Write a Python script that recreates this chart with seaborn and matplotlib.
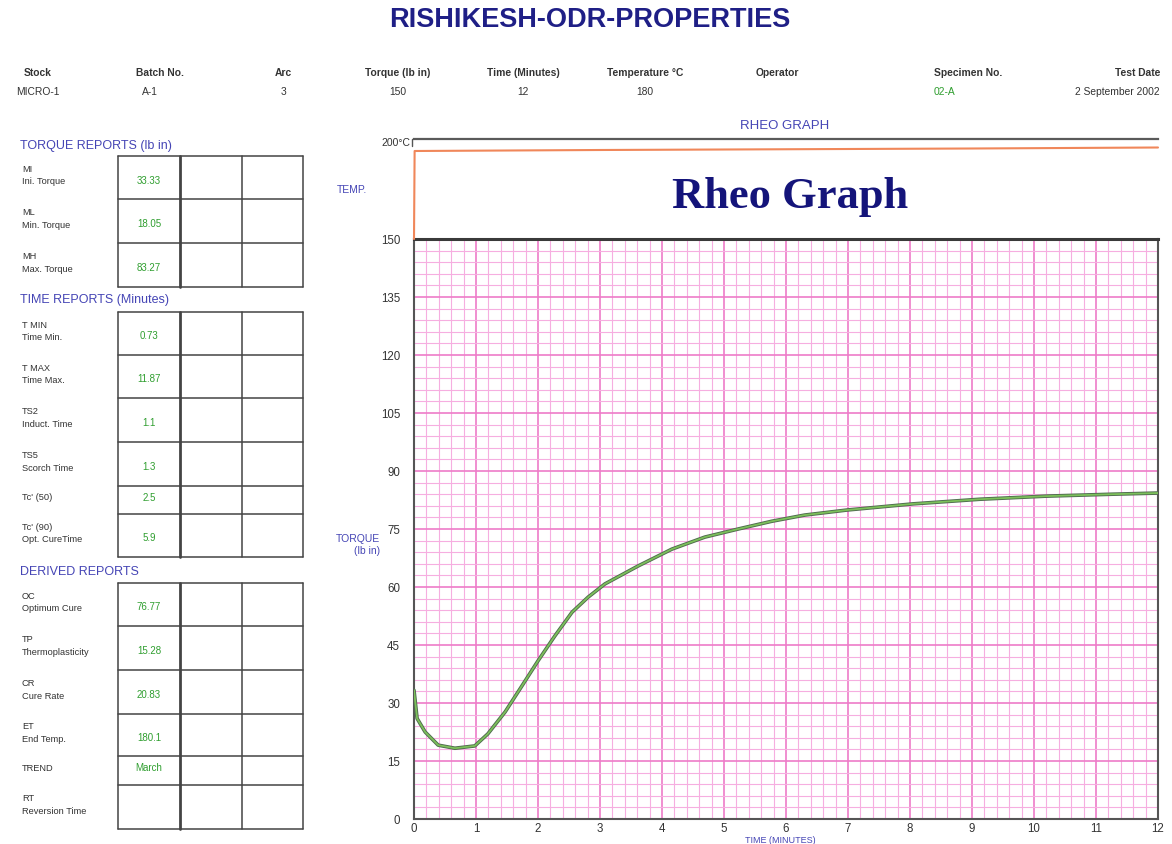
import numpy as np
import pandas as pd
import matplotlib
matplotlib.use('Agg')
import matplotlib.pyplot as plt
import seaborn as sns

# ---- data ----
header_labels = ['Stock', 'Batch No.', 'Arc', 'Torque (lb in)', 'Time (Minutes)',
                 'Temperature °C', 'Operator', 'Specimen No.', 'Test Date']
header_values = ['MICRO-1', 'A-1', '3', '150', '12', '180', '', '02-A', '2 September 2002']

torque_codes = ['MI', 'ML', 'MH']
torque_names = ['Ini. Torque', 'Min. Torque', 'Max. Torque']
torque_values = ['33.33', '18.05', '83.27']

time_codes = ['T MIN', 'T MAX', 'TS2', 'TS5', "Tc' (50)", "Tc' (90)"]
time_names = ['Time Min.', 'Time Max.', 'Induct. Time', 'Scorch Time', '', 'Opt. CureTime']
time_values = ['0.73', '11.87', '1.1', '1.3', '2.5', '5.9']

derived_codes = ['OC', 'TP', 'CR', 'ET', 'TREND', 'RT']
derived_names = ['Optimum Cure', 'Thermoplasticity', 'Cure Rate', 'End Temp.', '', 'Reversion Time']
derived_values = ['76.77', '15.28', '20.83', '180.1', 'March', '']

# cure curve (minutes, lb in)
cure_time = [0.0, 0.05, 0.18, 0.39, 0.66, 0.98, 1.19, 1.47, 1.74, 2.0, 2.27, 2.55,
             2.81, 3.08, 3.61, 4.16, 4.69, 5.23, 5.77, 6.3, 6.98, 8.05, 9.13,
             10.2, 11.27, 12.0]
cure_torque = [33.3, 26.0, 22.5, 19.1, 18.3, 18.9, 22.0, 27.7, 34.4, 40.9, 47.3, 53.5,
               57.4, 60.8, 65.4, 69.8, 72.9, 75.0, 77.0, 78.6, 79.9, 81.5, 82.7,
               83.5, 84.0, 84.3]

# temperature trace (minutes, deg C)
temp_time = [0.0, 0.01, 3.0, 6.0, 9.0, 12.0]
temp_c = [0.0, 176.0, 178.0, 179.5, 181.0, 183.0]

# ---- style ----
sns.set_style('white')
plt.rcParams['font.family'] = ['Liberation Sans', 'DejaVu Sans']

W, H = 1172, 845
fig = plt.figure(figsize=(W / 100, H / 100), dpi=100)
fig.patch.set_facecolor('white')

BLUE = '#4545b5'
NAVY = '#1f1f86'
GREEN = '#2f9e2f'
TXT = '#333333'

# overlay in pixel coordinates for the report form
ov = fig.add_axes([0, 0, 1, 1])
ov.set_xlim(0, W)
ov.set_ylim(H, 0)
ov.axis('off')

ov.text(590, 20, 'RISHIKESH-ODR-PROPERTIES', ha='center', va='center',
        fontsize=19.5, fontweight='bold', color=NAVY)

# header row
hx = [38, 160, 283, 398, 523, 645, 777, 968, 1160]
for i, (lab, val) in enumerate(zip(header_labels, header_values)):
    ha = 'right' if i == len(header_labels) - 1 else 'center'
    ov.text(hx[i], 73, lab, ha=ha, va='center', fontsize=7.4, fontweight='bold', color=TXT)
    if val:
        vx = hx[i]
        col = TXT
        if lab == 'Batch No.':
            vx = 150
        if lab == 'Specimen No.':
            vx, col = 944, GREEN
        ov.text(vx, 92, val, ha=ha, va='center', fontsize=7.4, color=col)


def draw_table(title, title_y, rows, codes, names, values):
    ov.text(20, title_y, title, ha='left', va='center', fontsize=9, color=BLUE)
    cols = [118, 180, 242, 303]
    top, bot = rows[0], rows[-1]
    for y in rows:
        ov.plot([cols[0], cols[-1]], [y, y], color='#444444', lw=1.1)
    for j, x in enumerate(cols):
        ov.plot([x, x], [top, bot], color='#444444', lw=2.0 if j == 1 else 1.1)
    for k in range(len(codes)):
        y0, y1 = rows[k], rows[k + 1]
        mid = (y0 + y1) / 2
        if names[k]:
            ov.text(22, mid - 3, codes[k] + '\n' + names[k], ha='left', va='center',
                    fontsize=6.7, color=TXT, linespacing=1.5)
            vy = mid + 2
        else:
            ov.text(22, mid - 3, codes[k], ha='left', va='center', fontsize=6.7, color=TXT)
            vy = mid - 3
        if values[k]:
            ov.text(149, vy, values[k], ha='center', va='center', fontsize=7, color=GREEN)


draw_table('TORQUE REPORTS (lb in)', 146, [157, 200, 244, 288],
           torque_codes, torque_names, torque_values)
draw_table('TIME REPORTS (Minutes)', 300, [313, 356, 399, 443, 487, 515, 558],
           time_codes, time_names, time_values)
draw_table('DERIVED REPORTS', 572, [584, 627, 671, 715, 757, 786, 830],
           derived_codes, derived_names, derived_values)

# ---- rheo graph ----
left, right = 414, 1158
main_top, main_bot = 240, 820
temp_top = 140

ax = fig.add_axes([left / W, 1 - main_bot / H, (right - left) / W, (main_bot - main_top) / H])
axt = fig.add_axes([left / W, 1 - main_top / H, (right - left) / W, (main_top - temp_top) / H])

cure = pd.DataFrame({'time': cure_time, 'torque': cure_torque})
sns.lineplot(data=cure, x='time', y='torque', ax=ax, color='#4f6b4f', lw=2.6,
             estimator=None, sort=False, zorder=5)
sns.lineplot(data=cure, x='time', y='torque', ax=ax, color='#7cc05a', lw=1.3,
             estimator=None, sort=False, zorder=6)

ax.set_xlim(0, 12)
ax.set_ylim(0, 150)
ax.set_xticks(range(0, 13))
ax.set_yticks(range(0, 151, 15))
ax.set_xticks(np.arange(0, 12.001, 0.2), minor=True)
ax.set_yticks(np.arange(0, 150.001, 3), minor=True)
ax.grid(which='minor', color='#f6aee0', lw=0.8)
ax.grid(which='major', color='#ee7cc8', lw=1.2)
ax.set_axisbelow(True)
ax.tick_params(which='both', length=0, labelsize=8.3, labelcolor=TXT)
ax.tick_params(axis='y', pad=10)
ax.tick_params(axis='x', pad=2)
ax.set_xlabel('')
ax.set_ylabel('')
for side, s in ax.spines.items():
    s.set_visible(True)
    s.set_color('#555555')
    s.set_linewidth(1.5)
ax.spines['top'].set_color('#3a3a3a')
ax.spines['top'].set_linewidth(2.2)

temp = pd.DataFrame({'time': temp_time, 'temp': temp_c})
sns.lineplot(data=temp, x='time', y='temp', ax=axt, color='#f0875a', lw=1.5,
             estimator=None, sort=False)
for l in axt.get_lines():
    l.set_clip_on(False)
axt.set_xlim(0, 12)
axt.set_ylim(0, 200)
axt.set_xticks([])
axt.set_yticks([])
axt.set_xlabel('')
axt.set_ylabel('')
for side in ['left', 'right', 'bottom']:
    axt.spines[side].set_visible(False)
axt.spines['top'].set_color('#5a5a5a')
axt.spines['top'].set_linewidth(1.6)
axt.patch.set_alpha(0)

ov.text(785, 126, 'RHEO GRAPH', ha='center', va='center', fontsize=9.5, color=BLUE)
ov.text(410, 143, '200°C', ha='right', va='center', fontsize=7.5, color=TXT)
ov.plot([412, 412], [140, 147], color='#555555', lw=1)
ov.text(352, 190, 'TEMP.', ha='center', va='center', fontsize=7.5, color=BLUE)
ov.text(790, 197, 'Rheo Graph', ha='center', va='center', fontsize=32,
        fontweight='bold', color='#14147a', family='Liberation Serif')
ov.text(358, 545, 'TORQUE\n(lb in)', ha='center', va='center', fontsize=7.5,
        color=BLUE, linespacing=1.3, multialignment='right')
ov.text(780, 843.5, 'TIME (MINUTES)', ha='center', va='baseline', fontsize=6.5, color=BLUE)

fig.savefig('out.png', dpi=100)
plt.close(fig)
